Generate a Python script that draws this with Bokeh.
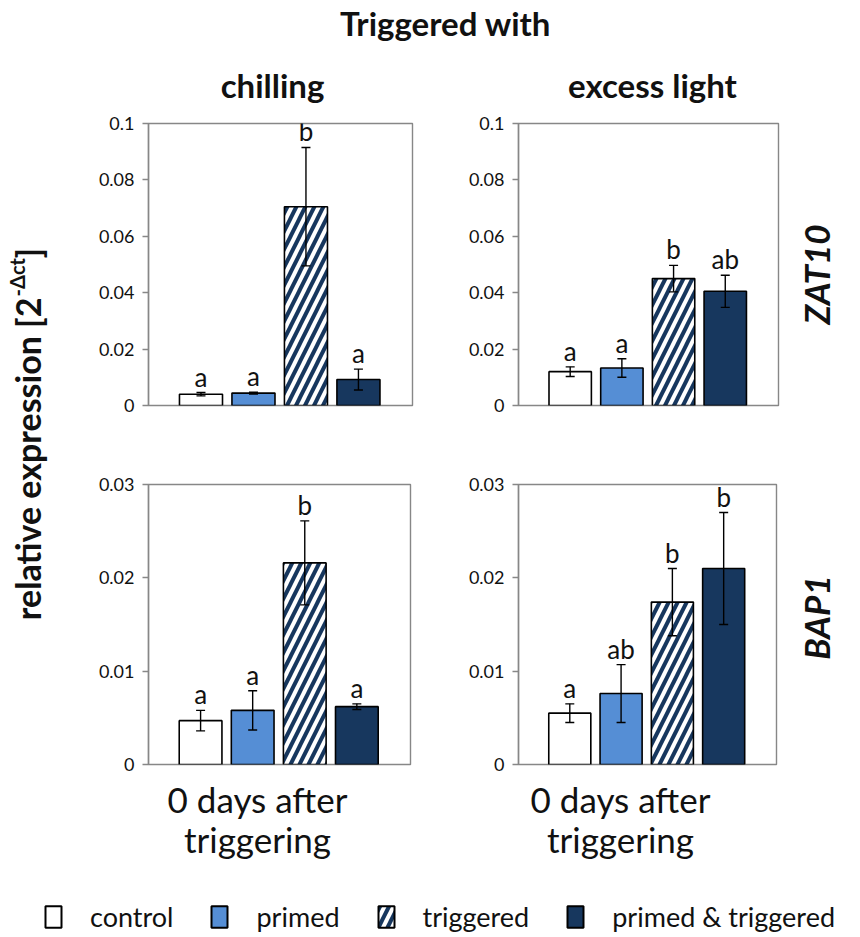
import math
from bokeh.plotting import figure
from bokeh.layouts import column, row
from bokeh.models import (ColumnDataSource, Whisker, TeeHead, Label, Legend, LegendItem,
                          Range1d, FixedTicker, NumeralTickFormatter)
from bokeh.core.properties import value
from bokeh.embed import file_html
from bokeh.resources import INLINE

# ---------------- data ----------------
treatments = ["control", "primed", "triggered", "primed & triggered"]
fill_colors = ["white", "#558ED5", "white", "#17375E"]
hatches = [" ", " ", "/", " "]

zat10_chilling = [0.0040, 0.0044, 0.0705, 0.0092]
zat10_chilling_err = [0.0006, 0.0003, 0.0210, 0.0037]
zat10_chilling_letters = ["a", "a", "b", "a"]

zat10_light = [0.0120, 0.0133, 0.0450, 0.0405]
zat10_light_err = [0.0017, 0.0033, 0.0047, 0.0057]
zat10_light_letters = ["a", "a", "b", "ab"]

bap1_chilling = [0.0047, 0.0058, 0.0216, 0.0062]
bap1_chilling_err = [0.0011, 0.0021, 0.0045, 0.0003]
bap1_chilling_letters = ["a", "a", "b", "a"]

bap1_light = [0.0055, 0.0076, 0.0174, 0.0210]
bap1_light_err = [0.0010, 0.0031, 0.0036, 0.0060]
bap1_light_letters = ["a", "ab", "b", "b"]

zat10_ticks = [0, 0.02, 0.04, 0.06, 0.08, 0.1]
bap1_ticks = [0, 0.01, 0.02, 0.03]

FONT = "Lato"
NAVY = "#17375E"
GRAY = "#878787"
TXT = "#111111"
HATCH = dict(hatch_color=NAVY, hatch_weight=4, hatch_scale=18)


def blank(width, height):
    p = figure(width=width, height=height, x_range=Range1d(0, 1), y_range=Range1d(0, 1),
               output_backend="svg", toolbar_location=None, min_border=0)
    p.axis.visible = False
    p.grid.visible = False
    p.outline_line_color = None
    return p


def panel(vals, errs, letters, ticks, width, height, bl, br, bt, bb):
    xs = list(range(1, len(vals) + 1))
    src = ColumnDataSource(dict(
        x=xs, top=vals,
        upper=[v + e for v, e in zip(vals, errs)],
        lower=[v - e for v, e in zip(vals, errs)],
        letter=letters, fill=fill_colors, hatch=hatches))
    p = figure(width=width, height=height, x_range=Range1d(0, 5.03),
               y_range=Range1d(0, ticks[-1]), output_backend="svg",
               toolbar_location=None, min_border=0,
               min_border_left=bl, min_border_right=br,
               min_border_top=bt, min_border_bottom=bb)
    p.vbar(x="x", top="top", width=0.82, source=src, fill_color="fill",
           line_color="black", line_width=1.6, hatch_pattern="hatch", **HATCH)
    w = Whisker(source=src, base="x", upper="upper", lower="lower",
                line_color="black", line_width=1.4, level="overlay",
                upper_head=TeeHead(size=9, line_color="black", line_width=1.4),
                lower_head=TeeHead(size=9, line_color="black", line_width=1.4))
    p.add_layout(w)
    p.text(x="x", y="upper", text="letter", source=src, text_align="center",
           text_baseline="bottom", y_offset=0, text_font=value(FONT),
           text_font_size="26px", text_color=TXT)
    p.xaxis.visible = False
    p.xgrid.visible = False
    p.ygrid.visible = False
    p.outline_line_color = GRAY
    p.outline_line_width = 1.4
    ax = p.yaxis[0]
    ax.ticker = FixedTicker(ticks=ticks)
    ax.formatter = NumeralTickFormatter(format="0.[00]")
    ax.axis_line_color = GRAY
    ax.axis_line_width = 1.4
    ax.major_tick_line_color = GRAY
    ax.major_tick_line_width = 1.4
    ax.major_tick_in = 0
    ax.major_tick_out = 6
    ax.minor_tick_line_color = None
    ax.major_label_standoff = 8
    ax.major_label_text_font = FONT
    ax.major_label_text_font_size = "18px"
    ax.major_label_text_color = TXT
    return p


def text_label(p, x, y, text, size, style="normal", angle=0.0, align="center"):
    p.add_layout(Label(x=x, y=y, x_units="screen", y_units="screen", text=text,
                       text_font=FONT, text_font_size=size, text_font_style=style,
                       text_color=TXT, angle=angle, text_align=align,
                       text_baseline="middle"))


# ---------------- header ----------------
header = blank(852, 110)
text_label(header, 445, 88, "Triggered with", "33px", "bold")
text_label(header, 272, 26, "chilling", "33px", "bold")
text_label(header, 652, 26, "excess light", "33px", "bold")

# ---------------- panels ----------------
f1 = panel(zat10_chilling, zat10_chilling_err, zat10_chilling_letters, zat10_ticks,
           405, 330, 88, 53, 13, 35)
f2 = panel(zat10_light, zat10_light_err, zat10_light_letters, zat10_ticks,
           325, 330, 52, 12, 13, 35)
f3 = panel(bap1_chilling, bap1_chilling_err, bap1_chilling_letters, bap1_ticks,
           405, 336, 88, 55, 40, 12)
f4 = panel(bap1_light, bap1_light_err, bap1_light_letters, bap1_ticks,
           325, 336, 52, 14, 44, 12)

# ---------------- x labels under panels ----------------
xlab = blank(730, 94)
text_label(xlab, 197, 72, "0 days after", "35px")
text_label(xlab, 197, 32, "triggering", "35px")
text_label(xlab, 560, 72, "0 days after", "35px")
text_label(xlab, 560, 32, "triggering", "35px")

# ---------------- gene names ----------------
genes = blank(62, 760)
text_label(genes, 25, 596, "ZAT10", "35px", "bold italic", math.pi / 2)
text_label(genes, 25, 253, "BAP1", "35px", "bold italic", math.pi / 2)

# ---------------- y label ----------------
ylab = blank(60, 760)
text_label(ylab, 27, 573, "relative expression [2", "34px", "bold", math.pi / 2, "right")
text_label(ylab, 16, 574, "-\u0394ct", "20px", "bold", math.pi / 2, "left")
text_label(ylab, 27, 612, "]", "34px", "bold", math.pi / 2, "left")

# ---------------- legend ----------------
leg = blank(852, 63)
items = []
nan = float("nan")
for name, fc, hp in zip(treatments, fill_colors, hatches):
    r = leg.vbar(x=[nan], top=[nan], width=0.5, fill_color=fc, line_color="black",
                 line_width=2, hatch_pattern=hp, **HATCH)
    items.append(LegendItem(label=name, renderers=[r]))
legend = Legend(items=items, orientation="horizontal", location=(43, 0),
                glyph_width=20, glyph_height=27, label_height=27,
                label_standoff=27, spacing=36, padding=0, margin=0,
                border_line_color=None, background_fill_alpha=0,
                label_text_font=FONT, label_text_font_size="27px",
                label_text_color=TXT)
leg.add_layout(legend)

layout = column(header,
                row(ylab, column(row(f1, f2), row(f3, f4), xlab), genes),
                leg)

open("out.html", "w").write(file_html(layout, INLINE))
